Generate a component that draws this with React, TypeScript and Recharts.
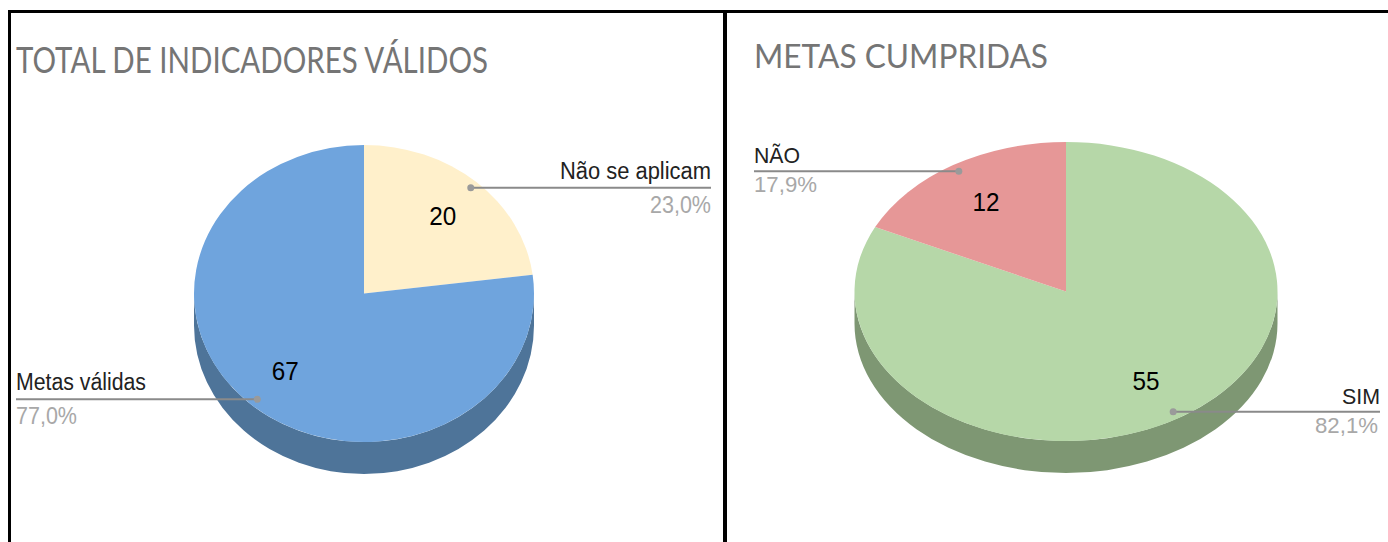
import React from "react";
import { PieChart, Pie, Cell } from "recharts";

// values
const validNames = ["Não se aplicam", "Metas válidas"];
const validValues = [20, 67];
const validColors = ["#fff0cb", "#6fa4dd"];
const validDepthColor = "#4e7499";

const metNames = ["SIM", "NÃO"];
const metValues = [55, 12];
const metColors = ["#b6d7a8", "#e69797"];
const metDepthColor = "#7e9773";

const toRows = (names: string[], values: number[]) =>
    names.map((name, i) => ({ name, value: values[i] }));

const DEPTH = 32;
const rad = (deg: number) => (deg * Math.PI) / 180;

function topSlice(props: any, squash: number) {
    const { cx, cy, outerRadius: rx, startAngle, endAngle, fill } = props;
    const ry = rx * squash;
    const x0 = cx + rx * Math.cos(rad(startAngle));
    const y0 = cy - ry * Math.sin(rad(startAngle));
    const x1 = cx + rx * Math.cos(rad(endAngle));
    const y1 = cy - ry * Math.sin(rad(endAngle));
    const large = Math.abs(endAngle - startAngle) > 180 ? 1 : 0;
    return (
        <path
            d={`M${cx},${cy} L${x0},${y0} A${rx},${ry} 0 ${large} 1 ${x1},${y1} Z`}
            fill={fill}
        />
    );
}

// the wall under the pie, only the part of a slice in the front half shows
function wallSlice(props: any, squash: number, depthColor: string) {
    const { cx, cy, outerRadius: rx, startAngle, endAngle } = props;
    const ry = rx * squash;
    const a0 = Math.min(startAngle, 0);
    const a1 = Math.max(endAngle, -180);
    if (a0 <= a1) return <g />;
    const x0 = cx + rx * Math.cos(rad(a0));
    const y0 = cy - ry * Math.sin(rad(a0));
    const x1 = cx + rx * Math.cos(rad(a1));
    const y1 = cy - ry * Math.sin(rad(a1));
    return (
        <path
            d={`M${x0},${y0} A${rx},${ry} 0 0 1 ${x1},${y1} L${x1},${y1 + DEPTH} A${rx},${ry} 0 0 0 ${x0},${y0 + DEPTH} Z`}
            fill={depthColor}
        />
    );
}

interface Panel {
    rows: { name: string; value: number }[];
    colors: string[];
    depthColor: string;
    left: number;
    width: number;
    cx: number;
    cy: number;
    rx: number;
    ry: number;
    leftEnd: number;
    rightEnd: number;
    nameGap: number;
    pctGap: number;
    nameWidths: number[];
    textSize: number;
    pctWidth: number;
    pctInset: number;
    valueSize: number;
    valueFrac: number;
}

function sliceLabel(panel: Panel, props: any) {
    const { cx, cy, midAngle, percent, name, value, index } = props;
    const cos = Math.cos(rad(midAngle));
    const sin = Math.sin(rad(midAngle));
    const dotX = cx + panel.rx * 0.95 * cos;
    const dotY = cy - panel.ry * 0.95 * sin;
    const valueX = cx + panel.rx * panel.valueFrac * cos;
    const valueY = cy - panel.ry * panel.valueFrac * sin;
    const onRight = cos > 0;
    const end = onRight ? panel.rightEnd : panel.leftEnd;
    const anchor = onRight ? "end" : "start";
    const pct = (percent * 100).toFixed(1).replace(".", ",") + "%";
    return (
        <g fontFamily="'Liberation Sans', Arial, sans-serif">
            <line x1={dotX} y1={dotY} x2={end} y2={dotY} stroke="#8a8a8a" strokeWidth={2} />
            <circle cx={dotX} cy={dotY} r={3.5} fill="#9a9a9a" />
            <text
                x={end}
                y={dotY - panel.nameGap}
                textAnchor={anchor}
                fontSize={panel.textSize}
                fill="#222"
                textLength={panel.nameWidths[index]}
                lengthAdjust="spacingAndGlyphs"
            >
                {name}
            </text>
            <text
                x={onRight ? end - panel.pctInset : end}
                y={dotY + panel.pctGap}
                textAnchor={anchor}
                fontSize={panel.textSize}
                fill="#a8a8a8"
                textLength={panel.pctWidth}
                lengthAdjust="spacingAndGlyphs"
            >
                {pct}
            </text>
            <text
                x={valueX}
                y={valueY}
                textAnchor="middle"
                dominantBaseline="central"
                fontSize={panel.valueSize}
                fill="#000"
                textLength={27}
                lengthAdjust="spacingAndGlyphs"
            >
                {value}
            </text>
        </g>
    );
}

function PiePanel({ panel }: { panel: Panel }) {
    const squash = panel.ry / panel.rx;
    return (
        <div style={{ position: "absolute", left: panel.left, top: 0 }}>
            <PieChart width={panel.width} height={542} margin={{ top: 0, right: 0, bottom: 0, left: 0 }}>
                <Pie
                    data={panel.rows}
                    dataKey="value"
                    cx={panel.cx}
                    cy={panel.cy}
                    outerRadius={panel.rx}
                    startAngle={90}
                    endAngle={-270}
                    stroke="none"
                    label={false}
                    labelLine={false}
                    isAnimationActive={false}
                    shape={(p: any) => wallSlice(p, squash, panel.depthColor)}
                />
                <Pie
                    data={panel.rows}
                    dataKey="value"
                    cx={panel.cx}
                    cy={panel.cy}
                    outerRadius={panel.rx}
                    startAngle={90}
                    endAngle={-270}
                    stroke="none"
                    labelLine={false}
                    label={(p: any) => sliceLabel(panel, p)}
                    isAnimationActive={false}
                    shape={(p: any) => topSlice(p, squash)}
                >
                    {panel.rows.map((row, i) => (
                        <Cell key={row.name} fill={panel.colors[i]} />
                    ))}
                </Pie>
            </PieChart>
        </div>
    );
}

const validPanel: Panel = {
    rows: toRows(validNames, validValues),
    colors: validColors,
    depthColor: validDepthColor,
    left: 0,
    width: 1388,
    cx: 364,
    cy: 293.5,
    rx: 170,
    ry: 148.5,
    leftEnd: 16,
    rightEnd: 711,
    nameGap: 9,
    pctGap: 25,
    nameWidths: [151, 130],
    textSize: 23,
    pctWidth: 61,
    pctInset: 0,
    valueSize: 26,
    valueFrac: 0.7,
};

const metPanel: Panel = {
    rows: toRows(metNames, metValues),
    colors: metColors,
    depthColor: metDepthColor,
    left: 724,
    width: 664,
    cx: 342,
    cy: 291.5,
    rx: 211.5,
    ry: 149.5,
    leftEnd: 30,
    rightEnd: 656,
    nameGap: 8,
    pctGap: 21,
    nameWidths: [38, 46],
    textSize: 22,
    pctWidth: 63,
    pctInset: 2,
    valueSize: 25,
    valueFrac: 0.71,
};

const bar = (left: number, top: number, width: number, height: number) => (
    <div style={{ position: "absolute", left, top, width, height, background: "#000" }} />
);

export default function App() {
    return (
        <div
            style={{
                position: "absolute",
                left: 0,
                top: 0,
                width: 1388,
                height: 542,
                overflow: "hidden",
                background: "#fff",
            }}
        >
            <PiePanel panel={validPanel} />
            <PiePanel panel={metPanel} />
            {bar(8, 10, 1380, 3)}
            {bar(8, 10, 3, 532)}
            {bar(723, 10, 4, 532)}
            <svg width={1388} height={110} style={{ position: "absolute", left: 0, top: 0 }}>
                <text
                    x={16}
                    y={73}
                    fontFamily="Lato, sans-serif"
                    fontSize={36}
                    fill="#757575"
                    textLength={472}
                    lengthAdjust="spacingAndGlyphs"
                >
                    TOTAL DE INDICADORES VÁLIDOS
                </text>
                <text
                    x={754}
                    y={68}
                    fontFamily="Lato, sans-serif"
                    fontSize={32}
                    fill="#757575"
                    textLength={294}
                    lengthAdjust="spacingAndGlyphs"
                >
                    METAS CUMPRIDAS
                </text>
            </svg>
        </div>
    );
}
